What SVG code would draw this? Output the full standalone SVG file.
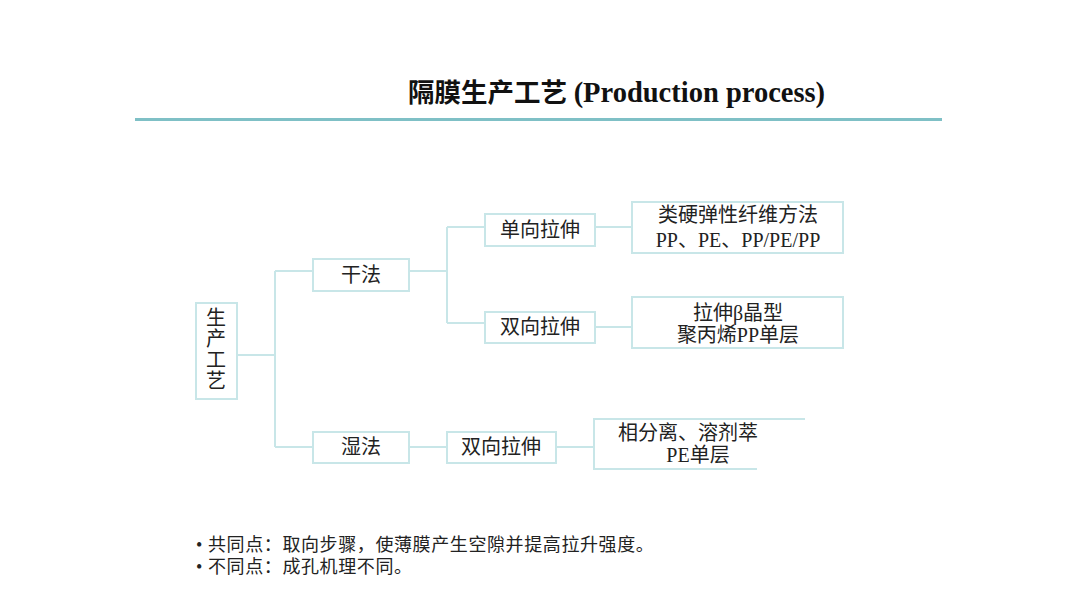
<svg xmlns="http://www.w3.org/2000/svg" width="1080" height="608" viewBox="0 0 1080 608">
<style>
.box{fill:#ffffff;stroke:#c8e6e8;stroke-width:2}
.ln{fill:none;stroke:#c8e6e8;stroke-width:2}
.t{font-family:"Liberation Serif","Noto Sans CJK SC",serif;font-size:20px;fill:#222;text-anchor:middle}
.b{font-family:"Liberation Serif","Noto Sans CJK SC",serif;font-size:18px;fill:#222;letter-spacing:0.6px}
</style>
<rect width="1080" height="608" fill="#ffffff"/>
<text x="408" y="102" font-family="'Liberation Serif','Noto Sans CJK SC',serif" font-size="26.5" font-weight="bold" fill="#111">隔膜生产工艺 <tspan font-size="28.5">(Production process)</tspan></text>
<line x1="135" y1="119.5" x2="942" y2="119.5" stroke="#7fc0c6" stroke-width="3"/>
<g id="connectors">
<path class="ln" d="M237 355H275M275 271V447M275 271H313M275 447H313"/>
<path class="ln" d="M409 271H447M447 227V323M447 227H485M447 323H485"/>
<path class="ln" d="M595 227H632M595 327H632"/>
<path class="ln" d="M409 447H447M556 447H594"/>
</g>
<g id="root">
<rect class="box" x="196" y="303" width="41" height="96"/>
<text class="t" x="216" y="325">生</text>
<text class="t" x="216" y="346">产</text>
<text class="t" x="216" y="367">工</text>
<text class="t" x="216" y="388">艺</text>
</g>
<g id="dry">
<rect class="box" x="313" y="259" width="96" height="32"/>
<text class="t" x="361" y="282">干法</text>
</g>
<g id="uni">
<rect class="box" x="485" y="214" width="110" height="32"/>
<text class="t" x="540" y="237">单向拉伸</text>
</g>
<g id="bi-dry">
<rect class="box" x="485" y="312" width="110" height="31"/>
<text class="t" x="540" y="334">双向拉伸</text>
</g>
<g id="uni-detail">
<rect class="box" x="632" y="202" width="211" height="51"/>
<text class="t" x="738" y="222">类硬弹性纤维方法</text>
<text class="t" x="738" y="247">PP、PE、PP/PE/PP</text>
</g>
<g id="bi-dry-detail">
<rect class="box" x="632" y="297" width="211" height="51"/>
<text class="t" x="738" y="320">拉伸β晶型</text>
<text class="t" x="738" y="342">聚丙烯PP单层</text>
</g>
<g id="wet">
<rect class="box" x="313" y="432" width="96" height="31"/>
<text class="t" x="361" y="454">湿法</text>
</g>
<g id="bi-wet">
<rect class="box" x="447" y="432" width="109" height="31"/>
<text class="t" x="501" y="454">双向拉伸</text>
</g>
<g id="wet-detail">
<path class="ln" d="M805 419H594V469H757"/>
<text class="t" x="688" y="440">相分离、溶剂萃</text>
<text class="t" x="698" y="462">PE单层</text>
</g>
<g id="notes">
<text class="b" x="196" y="551">• 共同点：取向步骤，使薄膜产生空隙并提高拉升强度。</text>
<text class="b" x="196" y="573">• 不同点：成孔机理不同。</text>
</g>
</svg>
